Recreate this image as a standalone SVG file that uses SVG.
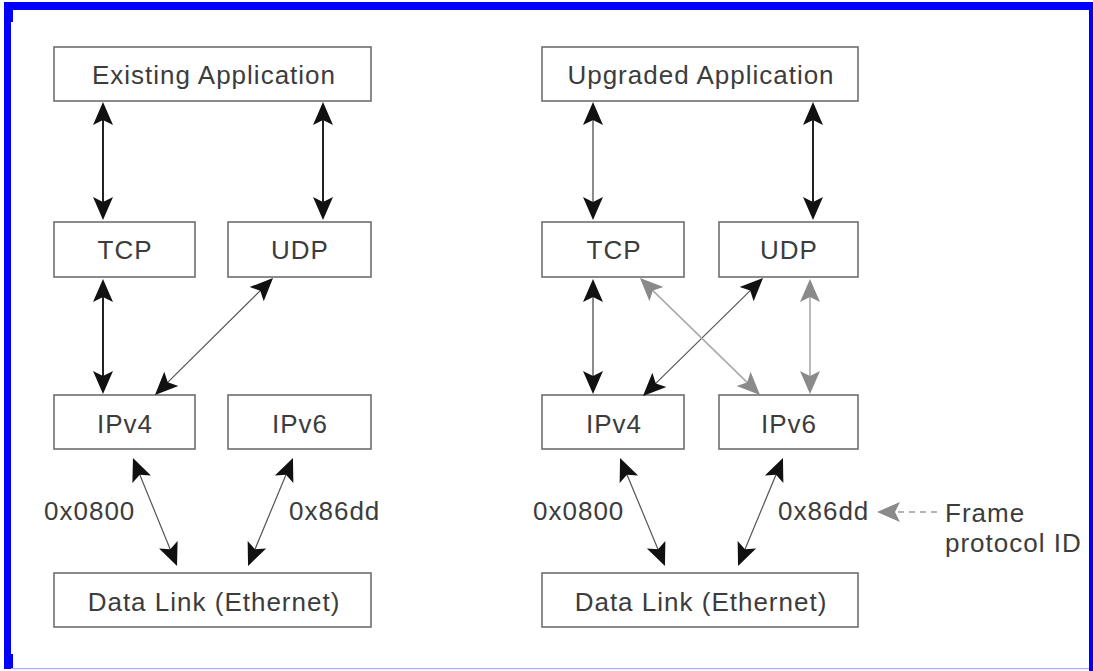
<svg xmlns="http://www.w3.org/2000/svg" width="1093" height="671" viewBox="0 0 1093 671">
  <style>
    .box { fill: #ffffff; stroke: #6e6e6e; stroke-width: 1.6; }
    .lbl { font-family: "Liberation Sans", Arial, Helvetica, sans-serif; font-size: 26px; letter-spacing: 1px; fill: #3c3c3c; }
    .mid { text-anchor: middle; }
    .dark { stroke: #222222; stroke-width: 2; fill: none; }
    .thin { stroke: #555555; stroke-width: 1.2; fill: none; }
    .grayv { stroke: #8a8a8a; stroke-width: 2; fill: none; }
    .light { stroke: #aaaaaa; stroke-width: 1.6; fill: none; }
    .bk { marker-start: url(#ah); marker-end: url(#ah); }
    .gr { marker-start: url(#ahg); marker-end: url(#ahg); }
  </style>
  <defs>
    <marker id="ah" viewBox="-26 -12 26 24" markerWidth="26" markerHeight="24" refX="-3" refY="0" orient="auto-start-reverse" markerUnits="userSpaceOnUse" overflow="visible">
      <path d="M0,0 L-23,-10 L-18,0 L-23,10 Z" fill="#111111"/>
    </marker>
    <marker id="ahg" viewBox="-26 -12 26 24" markerWidth="26" markerHeight="24" refX="-3" refY="0" orient="auto-start-reverse" markerUnits="userSpaceOnUse" overflow="visible">
      <path d="M0,0 L-23,-10 L-18,0 L-23,10 Z" fill="#8a8a8a"/>
    </marker>
  </defs>

  <rect x="0" y="0" width="1093" height="671" fill="#ffffff"/>

  <!-- blue frame -->
  <g id="frame" fill="#0000ff">
    <rect x="4" y="2" width="1089" height="8"/>
    <rect x="4" y="2" width="7" height="667"/>
    <rect x="11" y="10" width="2" height="12"/>
    <rect x="11" y="654" width="2" height="15"/>
    <rect x="1089" y="2" width="4" height="669"/>
    <rect x="11" y="668" width="1078" height="1.2" fill="#a8a8ff"/>
  </g>

  <!-- left stack -->
  <g id="existing-app">
    <rect class="box" x="54" y="47" width="317" height="54"/>
    <text class="lbl mid" x="214" y="84">Existing Application</text>
  </g>
  <g id="tcp-left">
    <rect class="box" x="54" y="222" width="141" height="55"/>
    <text class="lbl mid" x="125" y="259">TCP</text>
  </g>
  <g id="udp-left">
    <rect class="box" x="228" y="222" width="143" height="55"/>
    <text class="lbl mid" x="300" y="259">UDP</text>
  </g>
  <g id="ipv4-left">
    <rect class="box" x="54" y="395" width="141" height="54"/>
    <text class="lbl mid" x="125" y="433">IPv4</text>
  </g>
  <g id="ipv6-left">
    <rect class="box" x="228" y="395" width="143" height="54"/>
    <text class="lbl mid" x="300" y="433">IPv6</text>
  </g>
  <g id="datalink-left">
    <rect class="box" x="54" y="573" width="317" height="54"/>
    <text class="lbl mid" x="214" y="611">Data Link (Ethernet)</text>
  </g>

  <!-- right stack -->
  <g id="upgraded-app">
    <rect class="box" x="542" y="47" width="316" height="54"/>
    <text class="lbl mid" x="701" y="84">Upgraded Application</text>
  </g>
  <g id="tcp-right">
    <rect class="box" x="542" y="222" width="142" height="55"/>
    <text class="lbl mid" x="614" y="259">TCP</text>
  </g>
  <g id="udp-right">
    <rect class="box" x="719" y="222" width="139" height="55"/>
    <text class="lbl mid" x="789" y="259">UDP</text>
  </g>
  <g id="ipv4-right">
    <rect class="box" x="542" y="395" width="142" height="54"/>
    <text class="lbl mid" x="614" y="433">IPv4</text>
  </g>
  <g id="ipv6-right">
    <rect class="box" x="719" y="395" width="139" height="54"/>
    <text class="lbl mid" x="789" y="433">IPv6</text>
  </g>
  <g id="datalink-right">
    <rect class="box" x="542" y="573" width="316" height="54"/>
    <text class="lbl mid" x="701" y="611">Data Link (Ethernet)</text>
  </g>

  <!-- connectors -->
  <g id="connectors">
    <line class="dark bk" x1="103" y1="105" x2="103" y2="217"/>
    <line class="dark bk" x1="323" y1="105" x2="323" y2="217"/>
    <line class="dark bk" x1="103" y1="282" x2="103" y2="391"/>
    <line class="thin bk" x1="270.9" y1="280.1" x2="157.1" y2="392.9"/>
    <line class="thin bk" x1="134.1" y1="460.8" x2="175.9" y2="563.2"/>
    <line class="thin bk" x1="291.8" y1="460.8" x2="249.2" y2="563.2"/>

    <line class="grayv bk" x1="593" y1="105" x2="593" y2="217"/>
    <line class="dark bk" x1="813" y1="105" x2="813" y2="217"/>
    <line class="grayv bk" x1="593" y1="282" x2="593" y2="391"/>
    <line class="thin bk" x1="760.9" y1="280.1" x2="645.1" y2="393.9"/>
    <line class="light gr" x1="642.1" y1="280.1" x2="757.9" y2="392.9"/>
    <line class="light gr" x1="810" y1="282" x2="810" y2="391"/>
    <line class="thin bk" x1="621.2" y1="460.8" x2="663.8" y2="563.2"/>
    <line class="thin bk" x1="781.8" y1="460.8" x2="739.2" y2="563.2"/>

    <line x1="937" y1="512" x2="880" y2="512" stroke="#9a9a9a" stroke-width="1.6" stroke-dasharray="6,5" marker-end="url(#ahg)"/>
  </g>

  <!-- labels -->
  <g id="labels">
    <text class="lbl" x="44" y="520">0x0800</text>
    <text class="lbl" x="289" y="520">0x86dd</text>
    <text class="lbl" x="533" y="520">0x0800</text>
    <text class="lbl" x="778" y="520">0x86dd</text>
    <text class="lbl" x="945" y="522">Frame</text>
    <text class="lbl" x="945" y="552">protocol ID</text>
  </g>
</svg>
